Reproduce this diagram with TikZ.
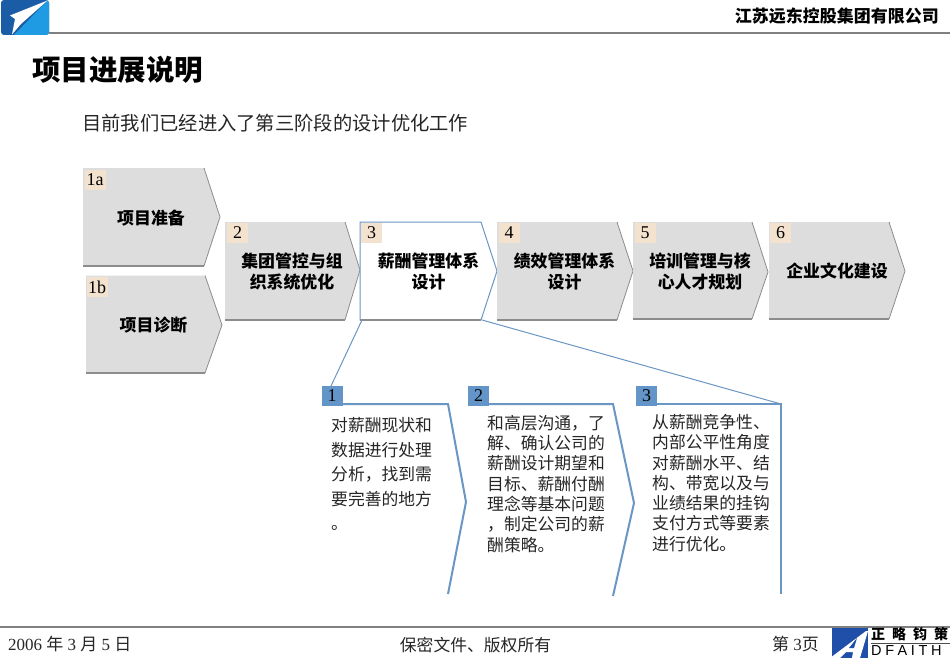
\documentclass[tikz,border=0pt]{standalone}
\usepackage{fontspec}
\setmainfont{Liberation Serif}
\setsansfont{Liberation Sans}
\newfontfamily\cjk{Noto Sans CJK SC}
\definecolor{chevfill}{HTML}{DDDDDD}
\definecolor{chevedge}{HTML}{8C8C8C}
\definecolor{tagfill}{HTML}{F3E3CE}
\definecolor{steelline}{HTML}{6A96C4}
\definecolor{steeltag}{HTML}{6495C8}
\definecolor{rulegray}{HTML}{808080}
\definecolor{bluedark}{HTML}{1A5CA6}
\definecolor{bluelight}{HTML}{1F9BE3}
\definecolor{bluedf}{HTML}{1F4FA8}
\tikzset{
  x=1pt,y=-1pt,
  inktext/.style={inner sep=0pt,text=black,font=\cjk\fontsize{16}{20}\selectfont,align=center},
  chevlabel/.style={inner sep=0pt,text=black,font=\cjk\bfseries\fontsize{16.9}{21.5}\selectfont,align=center},
  tagbox/.style={inner sep=0pt,minimum width=21pt,minimum height=20pt,fill=tagfill,text=black,font=\fontsize{18}{20}\selectfont},
  steelbox/.style={inner sep=0pt,minimum width=21pt,minimum height=20pt,fill=steeltag,text=black,font=\fontsize{18}{20}\selectfont},
  bodytext/.style={inner sep=0pt,anchor=north west,align=left,text=black!85},
  foldline/.style={draw=steelline,line width=2pt,line join=miter},
  leader/.style={draw=steelline,line width=1pt},
  rulebar/.style={draw=rulegray,line width=1.6pt},
}
\newcommand{\chev}[7]{% name, left, shoulder, tip, top, tipy, bottom
  \coordinate (#1-nw) at (#2,#5);
  \coordinate (#1-sw) at (#2,#7);
  \coordinate (#1-se) at (#3,#7);
  \coordinate (#1-ne) at (#3,#5);
  \coordinate (#1-tip) at (#4,#6);
  \fill[chevfill] (#1-nw)--(#1-ne)--(#1-tip)--(#1-se)--(#1-sw)--cycle;
  \draw[chevedge,line width=0.8pt] (#1-ne)--(#1-tip)--(#1-se);
  \draw[chevedge,line width=1.3pt] (#1-sw)--(#1-se);
}
\begin{document}
\begin{tikzpicture}
\useasboundingbox (0,0) rectangle (950,658);
\fill[white] (0,0) rectangle (950,658);

% top left logo
\fill[bluedark,rounded corners=3pt] (1,0) rectangle (49,35);
\begin{scope}
  \clip[rounded corners=3pt] (1,0) rectangle (49,35);
  \fill[bluelight] (48,0)--(49,0)--(49,35)--(14,35)--cycle;
  \fill[white] (47.5,0.5)--(10,15.5)--(15,19)--(12,34.5)--(21,24)--cycle;
\end{scope}

\draw[rulebar] (49,33) -- (950,33);
\node[inktext,anchor=east,font=\cjk\bfseries\fontsize{17}{18}\selectfont] (company) at (939,16) {江苏远东控股集团有限公司};
\node[inktext,anchor=west,font=\cjk\bfseries\fontsize{28.5}{30}\selectfont] (title) at (32,70) {项目进展说明};
\node[inktext,anchor=west,font=\cjk\fontsize{19.3}{22}\selectfont,text=black!85] (intro) at (82,123) {目前我们已经进入了第三阶段的设计优化工作};

% chevrons
\chev{a}{83}{204}{220}{168}{217}{266}
\chev{b}{86}{205}{222}{275.5}{325}{373}
\chev{c}{225}{345}{360}{222}{270}{320}
\coordinate (d-nw) at (360,222);
\coordinate (d-sw) at (360,320);
\coordinate (d-se) at (481,320);
\coordinate (d-ne) at (481,222);
\coordinate (d-tip) at (497,271);
\fill[white] (d-nw)--(d-ne)--(d-tip)--(d-se)--(d-sw)--cycle;
\draw[steelline,line width=1pt] (d-se)--(d-sw)--(d-nw)--(d-ne)--(d-tip)--(d-se);
\draw[chevedge,line width=1.3pt] (d-sw)--(d-se);
\chev{e}{497}{617}{633}{222}{271}{320}
\chev{f}{633}{752}{768}{222}{272}{319}
\chev{g}{769}{889}{905}{222}{271}{319}

% chevron numbers
\node[tagbox] (ta) at (95,180) {1a};
\node[tagbox] (tb) at (97,287) {1b};
\node[tagbox] (tc) at (237.5,233) {2};
\node[tagbox] (td) at (371.5,233) {3};
\node[tagbox] (te) at (509,233) {4};
\node[tagbox] (tf) at (645,233) {5};
\node[tagbox] (tg) at (780.5,233) {6};

% chevron labels
\node[chevlabel] (la) at (151,218) {项目准备};
\node[chevlabel] (lb) at (153.5,325) {项目诊断};
\node[chevlabel] (lc) at (292,271.5) {集团管控与组\\织系统优化};
\node[chevlabel] (ld) at (428.5,271.5) {薪酬管理体系\\设计};
\node[chevlabel] (le) at (564.5,271.5) {绩效管理体系\\设计};
\node[chevlabel] (lf) at (700,271.5) {培训管理与核\\心人才规划};
\node[chevlabel] (lg) at (837,271) {企业文化建设};

% lower tabs
\node[steelbox] (s1) at (332,395.5) {1};
\node[steelbox] (s2) at (478.5,395.5) {2};
\node[steelbox] (s3) at (646.5,395.5) {3};

% fold outlines
\coordinate (f1a) at (448,404);
\coordinate (f1b) at (466,502);
\coordinate (f1c) at (448,594);
\coordinate (f2a) at (613,404);
\coordinate (f2b) at (634,503);
\coordinate (f2c) at (613,596);
\coordinate (f3a) at (781,404);
\coordinate (f3c) at (781,594);
\coordinate (s1r) at (342,404);
\coordinate (s2r) at (489,404);
\coordinate (s3r) at (657,404);
\draw[foldline] (s1r)--(f1a)--(f1b)--(f1c);
\draw[foldline] (s2r)--(f2a)--(f2b)--(f2c);
\draw[foldline] (s3r)--(f3a)--(f3c);

% leaders
\coordinate (lead1) at (331,386);
\coordinate (lead2) at (482,320);
\coordinate (lead1t) at (362,320);
\draw[leader] (lead1t)--(lead1);
\draw[leader] (lead2)--(f3a);

% body text
\node[bodytext,font=\cjk\fontsize{16.8}{24.5}\selectfont] (t1) at (331,417.5) {对薪酬现状和\\数据进行处理\\分析，找到需\\要完善的地方\\。};
\node[bodytext,font=\cjk\fontsize{16.8}{20.3}\selectfont] (t2) at (487,415) {和高层沟通，了\\解、确认公司的\\薪酬设计期望和\\目标、薪酬付酬\\理念等基本问题\\，制定公司的薪\\酬策略。};
\node[bodytext,font=\cjk\fontsize{16.8}{20.3}\selectfont] (t3) at (652,414) {从薪酬竞争性、\\内部公平性角度\\对薪酬水平、结\\构、带宽以及与\\业绩结果的挂钩\\支付方式等要素\\进行优化。};

% footer
\draw[rulebar] (0,627) -- (950,627);
\node[inktext,anchor=west,font=\fontsize{17}{18}\selectfont,text=black!85] (date) at (8,644) {2006 {\cjk 年} 3 {\cjk 月} 5 {\cjk 日}};
\node[inktext,anchor=center,font=\cjk\fontsize{16.8}{18}\selectfont,text=black!85] (conf) at (475.5,645) {保密文件、版权所有};
\node[inktext,anchor=west,font=\fontsize{17}{18}\selectfont,text=black!85] (page) at (772,644) {{\cjk 第} 3{\cjk 页}};

% bottom right logo
\fill[bluedf] (832,628) rectangle (868,658);
\fill[white] (830,658)--(866,631)--(868,631)--(860,658)--(852,658)--(853,652)--(846,652)--(840,658)--cycle;
\fill[bluedf] (854,648)--(857,638)--(849,648)--cycle;
\node[inktext,anchor=west,font=\cjk\bfseries\fontsize{14}{15}\selectfont] (cn) at (871,634.5) {正\hspace{7pt}略\hspace{7pt}钧\hspace{7pt}策};
\node[inktext,anchor=west,font=\sffamily\fontsize{14.5}{15}\selectfont] (en) at (871,650.5) {D\hspace{3.6pt}F\hspace{3.6pt}A\hspace{3.6pt}I\hspace{3.6pt}T\hspace{3.6pt}H};
\coordinate (cnl) at (871,643);
\coordinate (cnr) at (950,643);
\draw[black!70,line width=0.8pt] (cnl) -- (cnr);
\end{tikzpicture}
\end{document}
